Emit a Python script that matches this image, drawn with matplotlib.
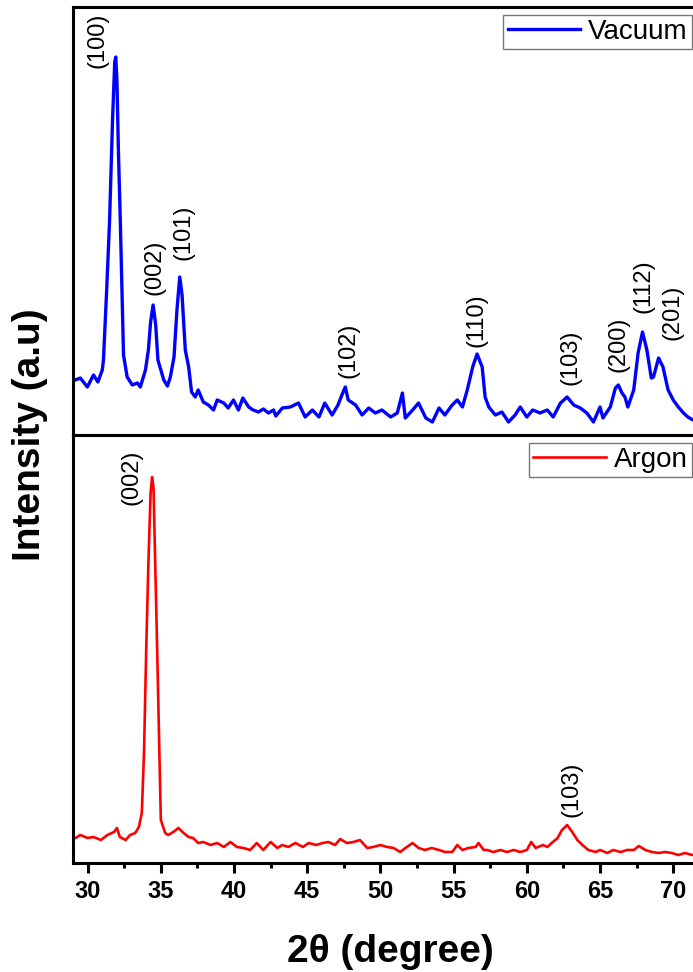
import matplotlib
matplotlib.use("Agg")
import matplotlib.pyplot as plt
from matplotlib.ticker import MultipleLocator

plt.rcParams['font.family'] = ['Liberation Sans', 'DejaVu Sans']

# vacuum annealed film (top panel), 2theta in degree, intensity in a.u.
vac_2theta = [29.0, 29.17, 29.5, 29.98, 30.4, 30.7, 31.0, 31.08, 31.3, 31.5,
              31.7, 31.85, 31.92, 32.0, 32.1, 32.23, 32.45, 32.7, 33.05, 33.4,
              33.6, 33.95, 34.15, 34.3, 34.47, 34.65, 34.8, 35.2, 35.45, 35.65,
              35.9, 36.1, 36.29, 36.45, 36.67, 36.9, 37.1, 37.35, 37.55, 37.9,
              38.25, 38.6, 38.85, 39.3, 39.6, 39.96, 40.3, 40.6, 41.0, 41.3,
              41.67, 42.0, 42.35, 42.7, 42.85, 43.3, 43.85, 44.4, 44.86, 45.35,
              45.8, 46.2, 46.7, 47.1, 47.45, 47.6, 47.8, 48.3, 48.75, 49.2,
              49.65, 50.1, 50.7, 51.15, 51.5, 51.7, 52.2, 52.6, 53.1, 53.55,
              54.0, 54.4, 54.9, 55.25, 55.6, 55.93, 56.3, 56.6, 56.95, 57.15,
              57.4, 57.85, 58.3, 58.75, 59.2, 59.55, 60.0, 60.4, 60.9, 61.4,
              61.8, 62.3, 62.75, 63.2, 63.65, 64.1, 64.55, 65.0, 65.2, 65.7,
              66.05, 66.25, 66.5, 66.7, 66.9, 67.3, 67.6, 67.9, 68.2, 68.5,
              68.65, 69.0, 69.3, 69.65, 70.0, 70.35, 70.7, 71.0, 71.35, 72.0]
vac_int = [57, 55, 57, 48, 60, 53, 65, 75, 145, 215,
           315, 373, 378, 355, 285, 215, 80, 58, 50, 52,
           48, 65, 85, 113, 130, 110, 75, 55, 49, 58,
           78, 125, 158, 140, 85, 68, 43, 38, 45, 33,
           30, 25, 35, 32, 27, 35, 25, 37, 28, 25,
           23, 26, 22, 25, 19, 27, 28, 32, 18, 25,
           18, 32, 20, 30, 43, 48, 35, 30, 20, 27,
           22, 25, 18, 22, 42, 17, 25, 32, 17, 13,
           27, 20, 30, 35, 28, 45, 68, 81, 68, 38,
           28, 20, 23, 13, 20, 28, 18, 25, 22, 25,
           18, 32, 38, 30, 27, 22, 13, 28, 17, 28,
           47, 50, 42, 38, 28, 45, 82, 103, 85, 57,
           58, 77, 68, 45, 35, 28, 22, 18, 15, 15]

# argon annealed film (bottom panel)
arg_2theta = [29.0, 29.17, 29.5, 30.0, 30.4, 30.9, 31.35, 31.8, 32.0, 32.2,
              32.6, 32.9, 33.25, 33.5, 33.7, 33.85, 34.0, 34.15, 34.3, 34.4,
              34.5, 34.6, 34.75, 34.9, 35.0, 35.3, 35.5, 35.85, 36.2, 36.55,
              36.9, 37.2, 37.55, 37.9, 38.4, 38.85, 39.3, 39.75, 40.2, 40.65,
              41.1, 41.55, 42.0, 42.5, 42.95, 43.3, 43.7, 44.2, 44.7, 45.1,
              45.6, 46.05, 46.45, 46.9, 47.25, 47.7, 48.15, 48.6, 49.1, 49.5,
              50.0, 50.45, 50.9, 51.35, 51.8, 52.2, 52.6, 53.05, 53.5, 54.0,
              54.4, 54.9, 55.25, 55.6, 56.0, 56.5, 56.7, 57.05, 57.3, 57.7,
              58.2, 58.65, 59.1, 59.55, 60.0, 60.3, 60.6, 61.1, 61.4, 61.7,
              62.1, 62.4, 62.75, 63.1, 63.45, 63.8, 64.2, 64.7, 65.0, 65.5,
              65.9, 66.4, 66.85, 67.3, 67.65, 68.1, 68.55, 69.0, 69.45, 69.9,
              70.35, 70.8, 71.3, 72.0]
arg_int = [25, 25, 28, 25, 26, 23, 28, 31, 35, 26,
           23, 28, 30, 36, 50, 110, 213, 300, 370, 386,
           375, 310, 213, 110, 43, 30, 28, 31, 35, 30,
           26, 25, 20, 21, 18, 20, 16, 21, 16, 15,
           13, 20, 13, 21, 15, 18, 16, 20, 16, 20,
           18, 20, 21, 18, 24, 20, 21, 23, 15, 16,
           18, 16, 15, 11, 16, 20, 15, 13, 15, 13,
           11, 11, 18, 13, 15, 16, 20, 13, 13, 11,
           13, 11, 13, 11, 13, 21, 15, 18, 16, 20,
           25, 33, 38, 31, 23, 18, 13, 11, 13, 10,
           13, 11, 13, 13, 17, 13, 11, 10, 11, 10,
           8, 10, 8, 8]

# peak indexing: label, 2theta, intensity where the label starts
vac_peaks = ["(100)", "(002)", "(101)", "(102)", "(110)", "(103)", "(200)", "(112)", "(201)"]
vac_peak_x = [30.66, 34.57, 36.55, 47.8, 56.55, 62.97, 66.25, 67.95, 69.93]
vac_peak_y = [367, 140, 175, 57, 88, 50, 63, 122, 95]
arg_peaks = ["(002)", "(103)"]
arg_peak_x = [32.98, 63.04]
arg_peak_y = [358, 46]

fig = plt.figure(figsize=(6.93, 9.72), dpi=100)
left = 73 / 693
width = 43 * 14.64 / 693
h = 428 / 972
ax_top = fig.add_axes([left, 1 - 435 / 972, width, h])
ax_bot = fig.add_axes([left, 1 - 863 / 972, width, h])

ax_top.plot(vac_2theta, vac_int, color='#0000ff', lw=2.4, label='Vacuum')
ax_bot.plot(arg_2theta, arg_int, color='#ff0000', lw=1.9, label='Argon')

for ax in (ax_top, ax_bot):
    ax.set_xlim(29.0, 72.0)
    ax.set_ylim(0, 428)
    ax.set_yticks([])
    for s in ax.spines.values():
        s.set_linewidth(2.2)
    ax.xaxis.set_major_locator(MultipleLocator(5))
    ax.xaxis.set_minor_locator(MultipleLocator(2.5))

ax_top.tick_params(axis='x', which='both', bottom=False, labelbottom=False)
ax_bot.tick_params(axis='x', which='major', direction='out', length=7.5, width=2.2, pad=5)
ax_bot.tick_params(axis='x', which='minor', direction='out', length=3.8, width=2.2)
for lab in ax_bot.get_xticklabels():
    lab.set_fontsize(17)
    lab.set_fontweight('bold')

for name, x, y in zip(vac_peaks, vac_peak_x, vac_peak_y):
    ax_top.text(x, y, name, rotation=90, ha='center', va='bottom', fontsize=17)
for name, x, y in zip(arg_peaks, arg_peak_x, arg_peak_y):
    ax_bot.text(x, y, name, rotation=90, ha='center', va='bottom', fontsize=17)

leg_kw = dict(loc='upper right', fontsize=20, frameon=True, fancybox=False,
              borderpad=0.15, handlelength=2.6, handletextpad=0.3,
              borderaxespad=0, bbox_transform=fig.transFigure)
lg1 = ax_top.legend(bbox_to_anchor=(692 / 693, 1 - 15 / 972), **leg_kw)
lg2 = ax_bot.legend(bbox_to_anchor=(692 / 693, 1 - 443 / 972), **leg_kw)
for lg in (lg1, lg2):
    lg.get_frame().set_edgecolor('#555555')
    lg.get_frame().set_linewidth(1.0)

fig.text(30 / 693, 1 - 435 / 972, 'Intensity (a.u)', rotation=90, ha='center',
         va='center', fontsize=28, fontweight='bold')
fig.text(390 / 693, 1 - 962 / 972, '2\u03b8 (degree)', ha='center', va='baseline',
         fontsize=28, fontweight='bold')

fig.savefig('out.png', dpi=100)
